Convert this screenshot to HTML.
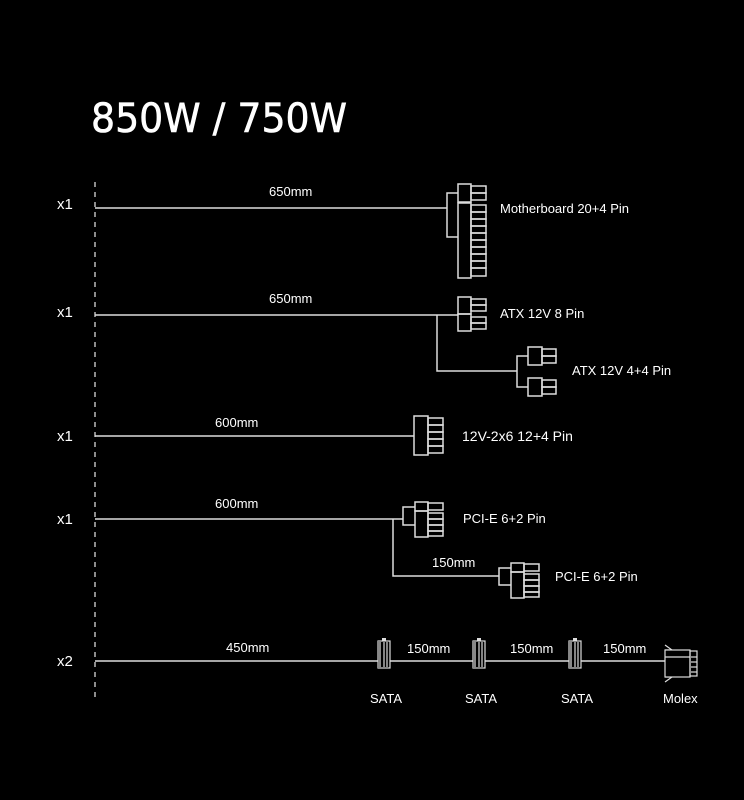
<!DOCTYPE html>
<html><head><meta charset="utf-8"><style>
html,body{margin:0;padding:0;background:#000;}
svg{display:block;}
text{font-family:"Liberation Sans",sans-serif;fill:#fff;}
</style></head><body>
<svg width="744" height="800" viewBox="0 0 744 800" xmlns="http://www.w3.org/2000/svg">
<rect width="744" height="800" fill="#000"/>
<text x="91" y="132" style="font-family:'DejaVu Sans',sans-serif;font-size:40px;stroke:#fff;stroke-width:0.6" textLength="256" lengthAdjust="spacingAndGlyphs">850W / 750W</text>
<line x1="95" y1="182" x2="95" y2="700" stroke="#bbb" stroke-width="1.5" stroke-dasharray="5,5"/>
<g font-size="15"><text x="57" y="209">x1</text><text x="57" y="317">x1</text><text x="57" y="441">x1</text><text x="57" y="524">x1</text><text x="57" y="666">x2</text></g>
<g font-size="13">
<text x="269" y="196">650mm</text><text x="269" y="303">650mm</text>
<text x="215" y="427">600mm</text><text x="215" y="508">600mm</text>
<text x="432" y="567">150mm</text>
<text x="226" y="652">450mm</text><text x="407" y="653">150mm</text><text x="510" y="653">150mm</text><text x="603" y="653">150mm</text>
<text x="370" y="703">SATA</text><text x="465" y="703">SATA</text><text x="561" y="703">SATA</text><text x="663" y="703">Molex</text>
<text x="500" y="213">Motherboard 20+4 Pin</text>
<text x="500" y="318">ATX 12V 8 Pin</text>
<text x="572" y="375">ATX 12V 4+4 Pin</text>
<text x="555" y="581">PCI-E 6+2 Pin</text>
<text x="463" y="523">PCI-E 6+2 Pin</text>
</g>
<text x="462" y="441" font-size="14">12V-2x6 12+4 Pin</text>
<g stroke="#ddd" stroke-width="1.5" fill="none">
<line x1="95" y1="208" x2="447" y2="208"/>
<polyline points="458,193 447,193 447,237 458,237"/>
<rect x="458" y="184" width="13" height="18"/>
<rect x="458" y="203" width="13" height="75"/>
<rect x="471" y="186" width="15" height="7"/><rect x="471" y="193" width="15" height="7"/>
<rect x="471" y="205" width="15" height="7"/><rect x="471" y="212" width="15" height="7"/><rect x="471" y="219" width="15" height="7"/><rect x="471" y="226" width="15" height="7"/><rect x="471" y="233" width="15" height="7"/><rect x="471" y="240" width="15" height="7"/><rect x="471" y="247" width="15" height="7"/><rect x="471" y="254" width="15" height="7"/><rect x="471" y="261" width="15" height="7"/><rect x="471" y="268" width="15" height="8"/>
<line x1="95" y1="315" x2="458" y2="315"/>
<rect x="458" y="297" width="13" height="17"/><rect x="458" y="314" width="13" height="17"/>
<rect x="471" y="299" width="15" height="6"/><rect x="471" y="305" width="15" height="6"/>
<rect x="471" y="317" width="15" height="6"/><rect x="471" y="323" width="15" height="6"/>
<polyline points="437,315 437,371 517,371"/>
<polyline points="528,356 517,356 517,387 528,387"/>
<rect x="528" y="347" width="14" height="18"/><rect x="528" y="378" width="14" height="18"/>
<rect x="542" y="349" width="14" height="7"/><rect x="542" y="356" width="14" height="7"/>
<rect x="542" y="380" width="14" height="7"/><rect x="542" y="387" width="14" height="7"/>
<line x1="95" y1="436" x2="414" y2="436"/>
<rect x="414" y="416" width="14" height="39"/>
<rect x="428" y="418" width="15" height="7"/><rect x="428" y="425" width="15" height="7"/><rect x="428" y="432" width="15" height="7"/><rect x="428" y="439" width="15" height="7"/><rect x="428" y="446" width="15" height="7"/>
<line x1="95" y1="519" x2="403" y2="519"/>
<polyline points="415,507 403,507 403,525 415,525"/>
<rect x="415" y="502" width="13" height="9"/><rect x="415" y="511" width="13" height="26"/>
<rect x="428" y="503" width="15" height="7"/><rect x="428" y="513" width="15" height="6"/><rect x="428" y="519" width="15" height="6"/><rect x="428" y="525" width="15" height="6"/><rect x="428" y="531" width="15" height="5"/>
<polyline points="393,519 393,576 499,576"/>
<polyline points="511,568 499,568 499,585 511,585"/>
<rect x="511" y="563" width="13" height="9"/><rect x="511" y="572" width="13" height="26"/>
<rect x="524" y="564" width="15" height="7"/><rect x="524" y="574" width="15" height="6"/><rect x="524" y="580" width="15" height="6"/><rect x="524" y="586" width="15" height="6"/><rect x="524" y="592" width="15" height="5"/>
<line x1="95" y1="661" x2="665" y2="661"/>
</g>
<g fill="none" stroke="#ddd" stroke-width="1.2">
<g><rect x="378" y="641" width="12" height="27" fill="#000"/><rect x="378" y="641" width="3" height="27" fill="#888" stroke="none"/><line x1="384" y1="642" x2="384" y2="667"/><line x1="387" y1="642" x2="387" y2="667"/><rect x="382" y="638" width="4" height="3" fill="#ddd" stroke="none"/></g>
<g transform="translate(95,0)"><rect x="378" y="641" width="12" height="27" fill="#000"/><rect x="378" y="641" width="3" height="27" fill="#888" stroke="none"/><line x1="384" y1="642" x2="384" y2="667"/><line x1="387" y1="642" x2="387" y2="667"/><rect x="382" y="638" width="4" height="3" fill="#ddd" stroke="none"/></g>
<g transform="translate(191,0)"><rect x="378" y="641" width="12" height="27" fill="#000"/><rect x="378" y="641" width="3" height="27" fill="#888" stroke="none"/><line x1="384" y1="642" x2="384" y2="667"/><line x1="387" y1="642" x2="387" y2="667"/><rect x="382" y="638" width="4" height="3" fill="#ddd" stroke="none"/></g>
<polyline points="665,645 672,650 665,650"/><polyline points="665,682 672,677 665,677"/>
<rect x="665" y="650" width="25" height="27" fill="#000"/>
<line x1="665" y1="657" x2="690" y2="657"/>
<rect x="690" y="651" width="7" height="25"/>
<line x1="691" y1="657" x2="697" y2="657"/><line x1="691" y1="662" x2="697" y2="662"/><line x1="691" y1="667" x2="697" y2="667"/><line x1="691" y1="672" x2="697" y2="672"/>
</g>
</svg>
</body></html>
